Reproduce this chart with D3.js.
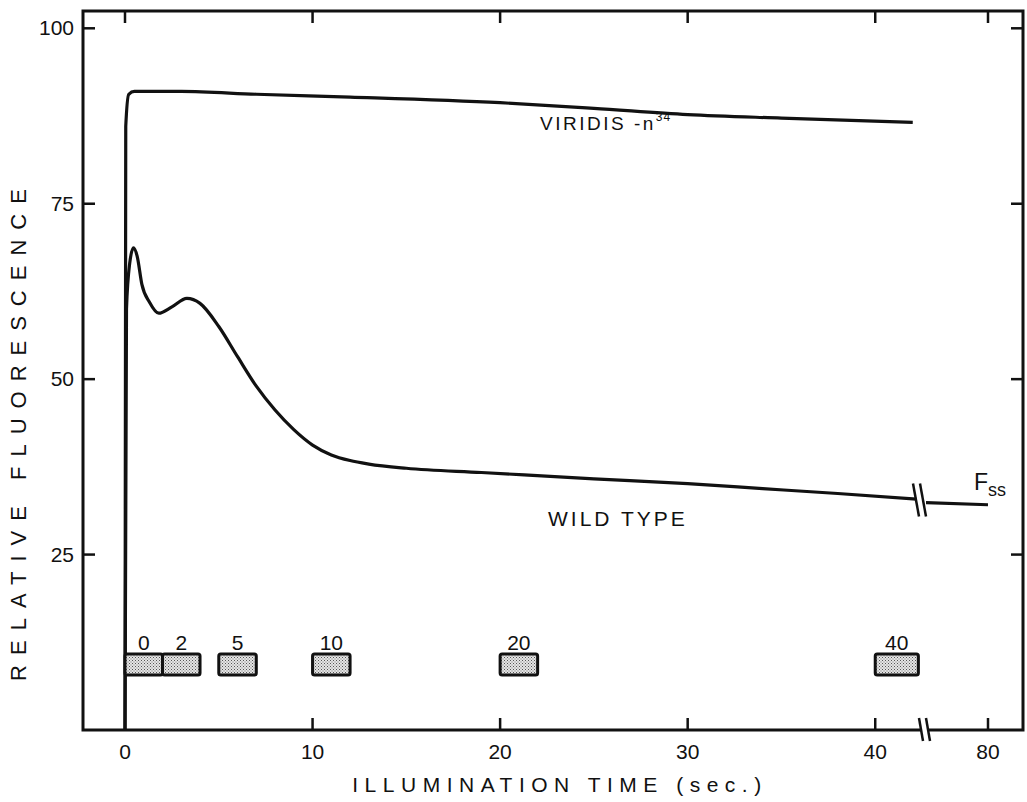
<!DOCTYPE html>
<html><head><meta charset="utf-8">
<script src="https://cdn.jsdelivr.net/npm/d3@7"></script>
<style>
html,body{margin:0;padding:0;background:#fff;}
svg text{font-family:"Liberation Sans",Arial,sans-serif;fill:#111;}
</style></head>
<body>
<svg id="chart" width="1027" height="802"></svg>
<script>
// ---- data ----
const viridisTime  = [0, 0.04, 0.2, 0.5, 3, 7, 12, 20, 25, 30, 35, 42];
const viridisValue = [0, 86, 90.6, 91.0, 91.0, 90.6, 90.2, 89.4, 88.6, 87.7, 87.2, 86.6];
const wildTime  = [0, 0.08, 0.25, 0.45, 0.65, 0.9, 1.3, 1.8, 2.5, 3.3, 4.0, 5.0, 6.0, 7.0, 8.0, 9.0, 10, 11, 12, 13, 15, 19, 25, 30, 34, 38, 42.2];
const wildValue = [0, 60, 66.5, 68.7, 67.5, 63.5, 61, 59.4, 60.3, 61.5, 60.8, 57.5, 53.2, 49, 45.6, 42.8, 40.6, 39.2, 38.4, 37.9, 37.3, 36.7, 35.8, 35.1, 34.4, 33.7, 32.9];
const fssTime  = [76.7, 80];
const fssValue = [32.4, 32.1];
const flashStart = [0, 2, 5, 10, 20, 40];
const flashEnd   = [2, 4, 7, 12, 22, 42.3];
const flashLabel = ["0", "2", "5", "10", "20", "40"];
const xTicks = [0, 10, 20, 30, 40, 80];
const xTickLabels = ["0", "10", "20", "30", "40", "80"];
const yTicks = [25, 50, 75, 100];
const yTickLabels = ["25", "50", "75", "100"];
const breakTime = 42.6;

// ---- layout ----
const L = 83, R = 1023, T = 11, B = 730;
const svg = d3.select("#chart");
const x = d3.scaleLinear().domain([0, breakTime, 76.7, 80]).range([125, 924, 926, 988]);
const y = d3.scaleLinear().domain([0, 100]).range([B, 28.3]);

// stipple pattern
const defs = svg.append("defs");
const pat = defs.append("pattern").attr("id","stip").attr("width",3).attr("height",3).attr("patternUnits","userSpaceOnUse");
pat.append("rect").attr("width",3).attr("height",3).attr("fill","#e4e4e4");
pat.append("rect").attr("x",0).attr("y",0).attr("width",1).attr("height",1).attr("fill","#555");
pat.append("rect").attr("x",1.5).attr("y",1.5).attr("width",1).attr("height",1).attr("fill","#777");

const ink = "#111";

// frame (with x-axis break gap)
const xb1 = 921, xb2 = 928;
svg.append("path").attr("d", `M${xb1},${B} L${L},${B} L${L},${T} L${R},${T} L${R},${B} L${xb2},${B}`)
  .attr("fill","none").attr("stroke",ink).attr("stroke-width",3);
[xb1, xb2].forEach(xx => {
  svg.append("line").attr("x1",xx-2).attr("y1",B-12).attr("x2",xx+2).attr("y2",B+11)
    .attr("stroke",ink).attr("stroke-width",2.5);
});

// ticks
const tk = 12;
xTicks.forEach(t => {
  if (t !== 0) svg.append("line").attr("x1",x(t)).attr("x2",x(t)).attr("y1",B).attr("y2",B-tk).attr("stroke",ink).attr("stroke-width",2.5);
  svg.append("line").attr("x1",x(t)).attr("x2",x(t)).attr("y1",T).attr("y2",T+tk).attr("stroke",ink).attr("stroke-width",2.5);
});
yTicks.forEach(v => {
  svg.append("line").attr("x1",L).attr("x2",L+tk).attr("y1",y(v)).attr("y2",y(v)).attr("stroke",ink).attr("stroke-width",2.5);
  svg.append("line").attr("x1",R).attr("x2",R-tk).attr("y1",y(v)).attr("y2",y(v)).attr("stroke",ink).attr("stroke-width",2.5);
});

// tick labels
svg.selectAll(".xl").data(xTicks).enter().append("text")
  .attr("x", d => x(d)).attr("y", 759).attr("text-anchor","middle")
  .attr("font-size",21).text((d,i) => xTickLabels[i]);
svg.selectAll(".yl").data(yTicks).enter().append("text")
  .attr("x", 74).attr("y", d => y(d)+7).attr("text-anchor","end")
  .attr("font-size",21).text((d,i) => yTickLabels[i]);

// axis titles
svg.append("text").attr("x", 560).attr("y", 792).attr("text-anchor","middle")
  .attr("font-size",21).attr("letter-spacing",6.5).text("ILLUMINATION TIME (sec.)");
svg.append("text").attr("transform","translate(26,430) rotate(-90)").attr("text-anchor","middle")
  .attr("font-size",22).attr("letter-spacing",10).text("RELATIVE FLUORESCENCE");

// curves
const line = d3.line().x(d => x(d[0])).y(d => y(d[1])).curve(d3.curveMonotoneX);
svg.append("path").datum(viridisTime.map((t,i)=>[t, viridisValue[i]]))
  .attr("d", line).attr("fill","none").attr("stroke",ink).attr("stroke-width",3.2).attr("stroke-linejoin","round");
svg.append("path").datum(wildTime.map((t,i)=>[t, wildValue[i]]))
  .attr("d", line).attr("fill","none").attr("stroke",ink).attr("stroke-width",3.2).attr("stroke-linejoin","round");
svg.append("path").datum(fssTime.map((t,i)=>[t, fssValue[i]]))
  .attr("d", d3.line().x(d => x(d[0])).y(d => y(d[1]))).attr("fill","none").attr("stroke",ink).attr("stroke-width",3.2);

// curve break marks
const yBr = y(32.7);
[916, 923].forEach(xx => {
  svg.append("line").attr("x1",xx-3).attr("y1",yBr-17).attr("x2",xx+3).attr("y2",yBr+16)
    .attr("stroke",ink).attr("stroke-width",2.5);
});

// flash boxes
const by0 = 654, by1 = 675;
svg.selectAll(".box").data(flashStart).enter().append("rect")
  .attr("x", d => x(d)).attr("y", by0)
  .attr("width", (d,i) => x(flashEnd[i]) - x(d)).attr("height", by1-by0)
  .attr("rx",2).attr("fill","url(#stip)").attr("stroke",ink).attr("stroke-width",3);
svg.selectAll(".bl").data(flashStart).enter().append("text")
  .attr("x", (d,i) => (x(d)+x(flashEnd[i]))/2).attr("y", 650).attr("text-anchor","middle")
  .attr("font-size",21).text((d,i) => flashLabel[i]);

// labels
const vt = svg.append("text").attr("x", 540).attr("y", 130).attr("font-size",19).attr("letter-spacing",2.5);
vt.append("tspan").text("VIRIDIS -n");
vt.append("tspan").attr("dy",-9).attr("font-size",12).attr("letter-spacing",1).text("34");
svg.append("text").attr("x", 548).attr("y", 526).attr("font-size",21).attr("letter-spacing",3).text("WILD TYPE");
const ft = svg.append("text").attr("x", 974).attr("y", 490).attr("font-size",23);
ft.append("tspan").text("F");
ft.append("tspan").attr("dy",6).attr("font-size",18).text("ss");
</script>
</body></html>
